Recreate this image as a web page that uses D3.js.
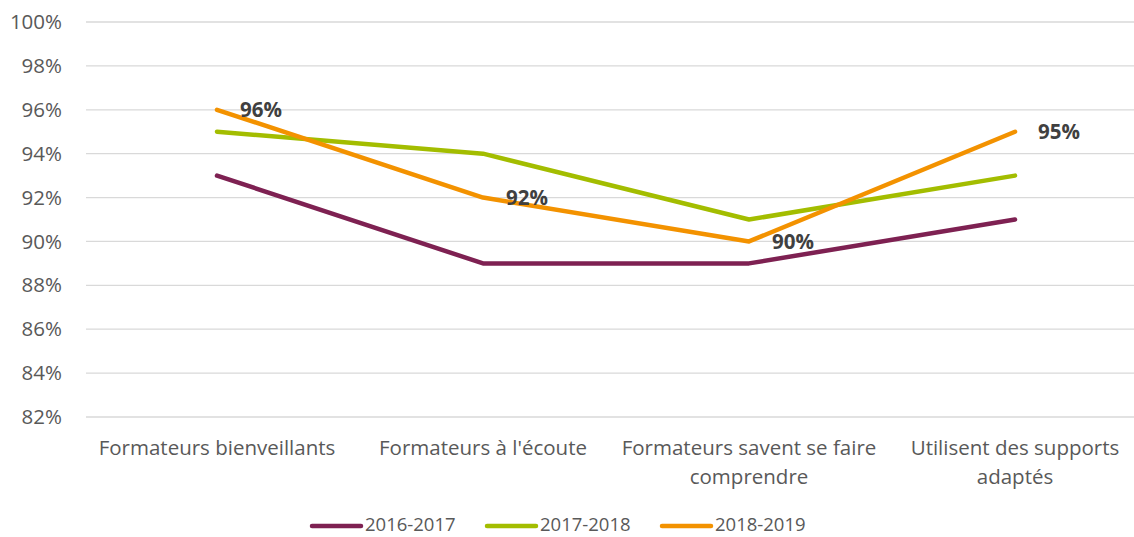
<!DOCTYPE html>
<html><head><meta charset="utf-8">
<script src="https://cdn.jsdelivr.net/npm/d3@7"></script>
<style>body{margin:0;background:#fff}svg{display:block}</style>
</head><body>
<svg id="c" width="1134" height="537"></svg>
<script>
const categories = [["Formateurs bienveillants"],["Formateurs à l'écoute"],["Formateurs savent se faire","comprendre"],["Utilisent des supports","adaptés"]];
const seriesNames = ["2016-2017","2017-2018","2018-2019"];
const s2016 = [93, 89, 89, 91];
const s2017 = [95, 94, 91, 93];
const s2018 = [96, 92, 90, 95];
const yTicks = [82,84,86,88,90,92,94,96,98,100];
const colors = ["#7E2152","#A3BD00","#F39200"];
const seriesValues = [s2016, s2017, s2018];
const labelled = [false, false, true];

const svg = d3.select("#c");
const font = "'Open Sans', sans-serif";
const x = d3.scaleBand().domain(d3.range(categories.length)).range([84, 1148]);
const y = d3.scaleLinear().domain([82, 100]).range([417, 22]);
const gridL = 86, gridR = 1134;

// grid
svg.append("g").selectAll("line").data(yTicks).join("line")
  .attr("x1", gridL).attr("x2", gridR)
  .attr("y1", d => y(d)).attr("y2", d => y(d))
  .attr("stroke", "#d9d9d9").attr("stroke-width", 1.3);

// y axis
const yAxis = svg.append("g").attr("transform", `translate(${gridL},0)`)
  .call(d3.axisLeft(y).tickValues(yTicks).tickFormat(d => d + "%").tickSize(0).tickPadding(24));
yAxis.select(".domain").remove();
yAxis.selectAll("text").attr("font-family", font).attr("font-size", 20.5).attr("fill", "#595959");

// x axis labels
const xAxis = svg.append("g").attr("transform", `translate(0,${y(82)})`)
  .call(d3.axisBottom(x).tickSize(0).tickFormat(() => ""));
xAxis.select(".domain").remove();
xAxis.selectAll(".tick").each(function(d){
  const t = d3.select(this).select("text").attr("font-family", font).attr("font-size", 20.5)
    .attr("fill", "#595959").attr("y", 0).attr("dy", 0);
  categories[d].forEach((ln, i) => {
    t.append("tspan").attr("x", 0).attr("y", 38 + i * 29).text(ln);
  });
});

// lines
const line = d3.line().x((d, i) => x(i) + x.bandwidth() / 2).y(d => y(d));
seriesValues.forEach((vals, si) => {
  svg.append("path").datum(vals).attr("d", line).attr("fill", "none")
    .attr("stroke", colors[si]).attr("stroke-width", 4.5)
    .attr("stroke-linecap", "round").attr("stroke-linejoin", "round");
});
seriesValues.forEach((vals, si) => {
  if (!labelled[si]) return;
  svg.append("g").selectAll("text").data(vals).join("text")
    .attr("x", (d, i) => x(i) + x.bandwidth() / 2 + 44)
    .attr("y", d => y(d)).attr("dy", "0.35em")
    .attr("text-anchor", "middle").attr("font-family", font).attr("font-size", 20.5)
    .attr("font-weight", "bold").attr("fill", "#404040")
    .text(d => d + "%");
});

// legend
const legendX = [312, 487, 662];
const lg = svg.append("g");
seriesNames.forEach((n, i) => {
  lg.append("line").attr("x1", legendX[i]).attr("x2", legendX[i] + 49)
    .attr("y1", 526).attr("y2", 526).attr("stroke", colors[i]).attr("stroke-width", 4.5)
    .attr("stroke-linecap", "round");
  lg.append("text").attr("x", legendX[i] + 53).attr("y", 524.5).attr("dy", "0.35em")
    .attr("font-family", font).attr("font-size", 18.5).attr("fill", "#595959").text(n);
});
</script>
</body></html>
